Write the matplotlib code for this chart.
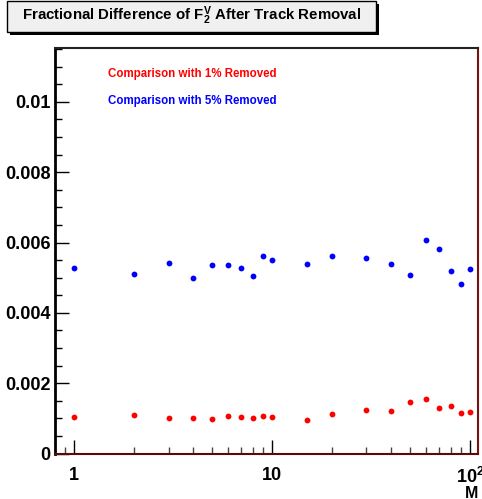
import numpy as np
import matplotlib
matplotlib.use("Agg")
import matplotlib.pyplot as plt
from matplotlib.patches import Rectangle
from matplotlib.ticker import FixedLocator, NullFormatter

plt.rcParams['font.family'] = ['Liberation Sans', 'DejaVu Sans']
plt.rcParams['font.weight'] = 'bold'
plt.rcParams['mathtext.fontset'] = 'custom'
plt.rcParams['mathtext.rm'] = 'Liberation Sans:bold'
plt.rcParams['mathtext.it'] = 'Liberation Sans:bold'
plt.rcParams['mathtext.bf'] = 'Liberation Sans:bold'

# === DATA ===
M = [1, 2, 3, 4, 5, 6, 7, 8, 9, 10, 15, 20, 30, 40, 50, 60, 70, 80, 90, 100]

diff_1pc = [0.001038, 0.001086, 0.001018, 0.001009, 0.000972, 0.001075, 0.001029,
            0.001009, 0.001058, 0.001046, 0.000961, 0.001123, 0.001245, 0.001208,
            0.001456, 0.001550, 0.001294, 0.001359, 0.001143, 0.001180]

diff_5pc = [0.005274, 0.005112, 0.005407, 0.004998, 0.005359, 0.005359, 0.005282,
            0.005038, 0.005615, 0.005493, 0.005387, 0.005624, 0.005550, 0.005387,
            0.005083, 0.006061, 0.005805, 0.005188, 0.004819, 0.005245]

y_ticks = [0, 0.002, 0.004, 0.006, 0.008, 0.01]
y_ticklabels = ["0", "0.002", "0.004", "0.006", "0.008", "0.01"]
x_ticks = [1, 10, 100]
x_ticklabels = ["1", "10", r"$10^{2}$"]

# === FIGURE ===
W, H = 482, 499
fig = plt.figure(figsize=(W / 100, H / 100), dpi=100)
fig.patch.set_facecolor('white')

ax = fig.add_axes([55 / W, 1 - 453.5 / H, 422.7 / W, 405.8 / H])
ax.set_xscale('log')
ax.set_xlim(0.801, 109.4)
ax.set_ylim(0, 0.01154)

ax.plot(M, diff_1pc, 'o', color='#ff0000', ms=4.2, mec='none')
ax.plot(M, diff_5pc, 'o', color='#0000ff', ms=4.2, mec='none')

# axis ticks
ax.yaxis.set_major_locator(FixedLocator(y_ticks))
ax.set_yticklabels(y_ticklabels)
ax.yaxis.set_minor_locator(FixedLocator(np.arange(0, 0.0116, 0.0005)))
ax.xaxis.set_major_locator(FixedLocator(x_ticks))
ax.set_xticklabels(x_ticklabels)
ax.xaxis.set_minor_locator(FixedLocator([0.9, 2, 3, 4, 5, 6, 7, 8, 9,
                                         20, 30, 40, 50, 60, 70, 80, 90]))
ax.xaxis.set_minor_formatter(NullFormatter())

ax.tick_params(axis='both', which='both', direction='in', top=False, right=False,
               colors='black')
ax.tick_params(axis='y', which='major', length=10, width=1, labelsize=13, pad=3)
ax.tick_params(axis='y', which='minor', length=5, width=1)
ax.tick_params(axis='x', which='major', length=10, width=1, labelsize=13, pad=10)
ax.tick_params(axis='x', which='minor', length=5, width=1, color='#444444')
for lab in ax.get_xticklabels() + ax.get_yticklabels():
    lab.set_fontweight('bold')

ax.spines['left'].set_linewidth(2)
ax.spines['left'].set_color('black')
ax.spines['top'].set_linewidth(1.5)
ax.spines['top'].set_color('#222222')
ax.spines['bottom'].set_linewidth(1.5)
ax.spines['bottom'].set_color('#5a0a0a')
ax.spines['right'].set_linewidth(1.5)
ax.spines['right'].set_color('#7a1010')

# text labels for the two series
ax.text(0.1254, 0.935, "Comparison with 1% Removed", transform=ax.transAxes,
        color='#ff0000', fontsize=8.3, fontweight='bold', va='center', ha='left')
ax.text(0.1254, 0.869, "Comparison with 5% Removed", transform=ax.transAxes,
        color='#0000ff', fontsize=8.3, fontweight='bold', va='center', ha='left')

# x axis title
fig.text(478 / W, 1 - 497.5 / H, "M", ha='right', va='baseline', fontsize=11.5,
         fontweight='bold')

# title pave with shadow
x0, y0, x1, y1 = 7, 1, 376, 32
fig.patches.append(Rectangle((x0 / W + 2.5 / W, 1 - (y1 + 2.5) / H),
                             (x1 - x0) / W, (y1 - y0) / H,
                             transform=fig.transFigure, facecolor='black',
                             edgecolor='none', zorder=1))
fig.patches.append(Rectangle((x0 / W, 1 - y1 / H), (x1 - x0) / W, (y1 - y0) / H,
                             transform=fig.transFigure, facecolor='#f0f0f0',
                             edgecolor='black', linewidth=1, zorder=2))
fig.text((x0 + x1) / 2 / W, 1 - 16 / H,
         r"Fractional Difference of F$_{2}^{V}$ After Track Removal",
         ha='center', va='center', fontsize=10.8, fontweight='bold', zorder=3)

fig.savefig("out.png", dpi=100)
